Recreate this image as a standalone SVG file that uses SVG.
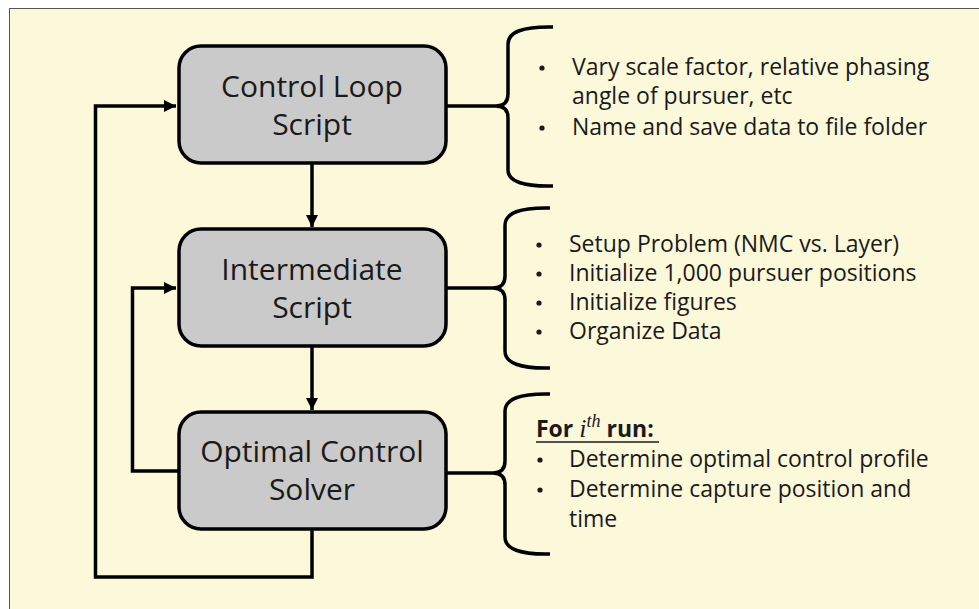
<svg xmlns="http://www.w3.org/2000/svg" width="979" height="609" viewBox="0 0 979 609">
<defs>
<marker id="arr" markerUnits="userSpaceOnUse" markerWidth="12" markerHeight="12" viewBox="0 0 12 12" refX="12" refY="6" orient="auto">
<path d="M0,0 L12,6 L0,12 Z" fill="#000"/>
</marker>
<style>
.box{fill:#CACACA;stroke:#000;stroke-width:3.5}
.lbl{font-family:"Open Sans","Liberation Sans",sans-serif;font-size:30px;fill:#1a1a1a;text-anchor:middle}
.txt{font-family:"Open Sans","Liberation Sans",sans-serif;font-size:23px;fill:#1a1a1a}
.bul{fill:#1a1a1a}
.con{fill:none;stroke:#000;stroke-width:3.5}
.brace{fill:none;stroke:#000;stroke-width:3.5}
</style>
</defs>
<rect x="0" y="0" width="979" height="609" fill="#ffffff"/>
<rect x="9.5" y="8.5" width="975" height="610" fill="#FCF8DA" stroke="#555" stroke-width="1"/>

<g id="connectors">
<line class="con" x1="312" y1="164" x2="312" y2="227" marker-end="url(#arr)"/>
<line class="con" x1="312" y1="347" x2="312" y2="410" marker-end="url(#arr)"/>
<polyline class="con" points="178,471 132.5,471 132.5,288 176,288" marker-end="url(#arr)"/>
<polyline class="con" points="312,530 312,577 95.5,577 95.5,106 176,106" marker-end="url(#arr)"/>
<line class="con" x1="446" y1="106" x2="496" y2="106"/>
<line class="con" x1="446" y1="288" x2="493" y2="288"/>
<line class="con" x1="446" y1="473" x2="493" y2="473"/>
</g>

<g id="node-control-loop">
<rect class="box" x="179" y="46" width="267" height="117" rx="22"/>
<text class="lbl" x="312" y="97">Control Loop</text>
<text class="lbl" x="312" y="135">Script</text>
</g>

<g id="node-intermediate">
<rect class="box" x="179" y="229" width="267" height="117" rx="22"/>
<text class="lbl" x="312" y="280">Intermediate</text>
<text class="lbl" x="312" y="318">Script</text>
</g>

<g id="node-optimal">
<rect class="box" x="179" y="412" width="267" height="117" rx="22"/>
<text class="lbl" x="312" y="462">Optimal Control</text>
<text class="lbl" x="312" y="500">Solver</text>
</g>

<g id="brace-1">
<path class="brace" d="M553,27 Q508,26 508,44 L508,94 Q508,106 496,106 Q508,106 508,118 L508,170 Q508,187 553,186"/>
<circle class="bul" cx="542" cy="68" r="2.6"/>
<text class="txt" x="572" y="75">Vary scale factor, relative phasing</text>
<text class="txt" x="572" y="104">angle of pursuer, etc</text>
<circle class="bul" cx="542" cy="128" r="2.6"/>
<text class="txt" x="572" y="135">Name and save data to file folder</text>
</g>

<g id="brace-2">
<path class="brace" d="M550,208 Q505,207 505,225 L505,276 Q505,288 493,288 Q505,288 505,300 L505,351 Q505,369 550,368"/>
<circle class="bul" cx="539" cy="245" r="2.6"/>
<text class="txt" x="569" y="252">Setup Problem (NMC vs. Layer)</text>
<circle class="bul" cx="539" cy="274" r="2.6"/>
<text class="txt" x="569" y="281">Initialize 1,000 pursuer positions</text>
<circle class="bul" cx="539" cy="303" r="2.6"/>
<text class="txt" x="569" y="310">Initialize figures</text>
<circle class="bul" cx="539" cy="332" r="2.6"/>
<text class="txt" x="569" y="339">Organize Data</text>
</g>

<g id="brace-3">
<path class="brace" d="M550,394 Q505,393 505,411 L505,461 Q505,473 493,473 Q505,473 505,485 L505,537 Q505,555 550,554"/>
<text class="txt" x="536" y="437" font-weight="bold">For <tspan font-family="Liberation Serif,serif" font-style="italic" font-weight="normal" font-size="26">i</tspan><tspan font-family="Liberation Serif,serif" font-style="italic" font-weight="normal" font-size="18" dy="-10">th</tspan><tspan dy="10"> run:</tspan></text>
<line x1="536" y1="442" x2="659" y2="442" stroke="#1a1a1a" stroke-width="1.6"/>
<circle class="bul" cx="540" cy="460" r="2.6"/>
<text class="txt" x="569" y="467">Determine optimal control profile</text>
<circle class="bul" cx="540" cy="490" r="2.6"/>
<text class="txt" x="569" y="497">Determine capture position and</text>
<text class="txt" x="569" y="527">time</text>
</g>
</svg>
